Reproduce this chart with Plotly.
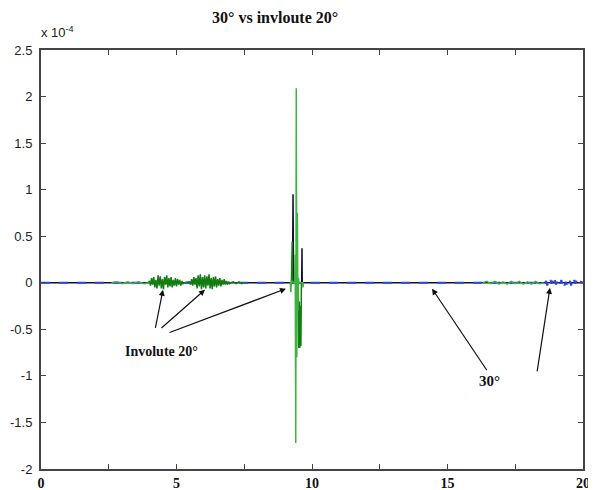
import plotly.graph_objects as go

# values in units of 1e-4
# light green involute response (None breaks the line)
lg_x = [2.6, 2.8, 3.0, 3.2, 3.4, 3.6, 3.8, 4.0, None,
        9.18, 9.20, 9.22, 9.24, 9.36, 9.38, 9.40, 9.42, 9.44, 9.46, 9.48, 9.50, 9.52, 9.66, 9.67, 9.68, None,
        16.3, 16.45, 16.6, 16.75, 16.9, 17.05, 17.2, 17.35, 17.5, 17.65, 17.8, 17.95, 18.1, 18.25, 18.4, 18.55]
lg_y = [0, 0.01, -0.01, 0.01, -0.01, 0.01, -0.01, 0, None,
        0, 0, -0.1, 0.02, 0, 0.3, -1.72, 2.09, -0.8, 0.75, -0.3, 0.05, 0, 0, -0.05, 0, None,
        0, 0.015, -0.01, 0.015, -0.015, 0.01, -0.015, 0.015, -0.01, 0.015, -0.015, 0.01, -0.015, 0.015, -0.01, 0]

# dark green involute response
dg_x = [3.96,
        4.00, 4.04, 4.08, 4.12, 4.16, 4.20, 4.24, 4.28, 4.32, 4.36, 4.40, 4.44, 4.48, 4.52, 4.56, 4.60, 4.64,
        4.68, 4.72, 4.76, 4.80, 4.84, 4.88, 4.92, 4.96, 5.00, 5.04, 5.08, 5.12, 5.16, 5.20, 5.24, 5.28,
        5.48, 5.52, 5.56, 5.60, 5.64, 5.68, 5.72, 5.76, 5.80, 5.84, 5.88, 5.92, 5.96, 6.00,
        6.04, 6.08, 6.12, 6.16, 6.20, 6.24, 6.28, 6.32, 6.36, 6.40, 6.44, 6.48, 6.52, 6.56, 6.60, 6.64,
        6.68, 6.72, 6.76, 6.80, 6.84, 6.88, 6.92, 6.96, 7.00,
        7.1, 7.2, 7.3, 7.4, 7.5, None,
        9.24, 9.25, 9.26, 9.27, 9.28, 9.29, 9.47, 9.49, 9.51, 9.53, 9.55, 9.57, 9.59, 9.61]
dg_y = [0,
        0.02, -0.03, 0.05, -0.02, 0.06, -0.05, 0.03, -0.06, 0.08, -0.03, 0.07, -0.06, 0.04, -0.07, 0.06, -0.02, 0.08,
        -0.05, 0.05, -0.04, 0.06, -0.05, 0.03, -0.03, 0.05, -0.04, 0.04, -0.02, 0.03, -0.03, 0.02, -0.01, 0,
        0.01, -0.02, 0.04, -0.03, 0.06, -0.02, 0.05, -0.06, 0.08, -0.04, 0.09, -0.07, 0.06, -0.05,
        0.08, -0.06, 0.07, -0.03, 0.09, -0.06, 0.05, -0.07, 0.06, -0.04, 0.07, -0.05, 0.04, -0.03, 0.05, -0.04,
        0.03, -0.02, 0.04, -0.02, 0.02, -0.02, 0.01, -0.01, 0,
        0.01, -0.01, 0.01, -0.01, 0, None,
        0, 0.44, 0.05, 0.44, 0.05, 0, 0, -0.2, -0.7, -0.2, -0.7, -0.25, -0.68, 0]

# black involute response
bk_x = [0, 9.28, 9.30, 9.32, 9.62, 9.63, 9.64, 20]
bk_y = [0, 0, 0.95, 0, 0, 0.37, 0, 0]

# blue 30 degree response
bl_x = [0, 18.6, 18.64, 18.68, 18.72, 18.76, 18.8, 18.84, 18.88, 18.92, 18.96, 19.0, 19.04, 19.08, 19.12,
        19.16, 19.2, 19.24, 19.28, 19.32, 19.36, 19.4, 19.44, 19.48, 19.52, 19.56, 19.6, 19.64, 19.68,
        19.72, 19.76, 19.8, 19.84, 19.88, 19.92, 20]
bl_y = [0, 0, 0.02, -0.03, 0.01, -0.02, 0.03, -0.01, 0.02, -0.03, 0.03, -0.02, 0.01, -0.03, 0.02,
        -0.01, 0.03, -0.02, 0.02, -0.03, 0.01, -0.02, 0.03, -0.01, 0.02, -0.03, 0.02, -0.02, 0.03,
        -0.01, 0.02, -0.02, 0.01, -0.01, 0.01, 0]

y_ticks = [-2, -1.5, -1, -0.5, 0, 0.5, 1, 1.5, 2, 2.5]
y_labels = ["-2", "-1.5", "-1", "-0.5", "0", "0.5", "1", "1.5", "2", "2.5"]

fig = go.Figure()
fig.add_trace(go.Scatter(x=bk_x, y=bk_y, mode="lines", line=dict(color="#101030", width=1.5), connectgaps=False))
fig.add_trace(go.Scatter(x=bl_x, y=bl_y, mode="lines", line=dict(color="#2a48e0", width=2, dash="dash")))
fig.add_trace(go.Scatter(x=dg_x, y=dg_y, mode="lines", line=dict(color="#137d13", width=1.5), connectgaps=False))
fig.add_trace(go.Scatter(x=lg_x, y=lg_y, mode="lines", line=dict(color="#3fb23f", width=1.5), connectgaps=False))

ann = []
ann.append(dict(text="<b>30° vs invloute 20°</b>", xref="paper", yref="paper", x=(275 - 41) / 542, y=1,
                yanchor="bottom", xanchor="center", showarrow=False,
                font=dict(family="Liberation Serif", size=16, color="#111"), yshift=22))
ann.append(dict(text="x 10<sup>-4</sup>", xref="paper", yref="paper", x=0, y=1, xanchor="left", yanchor="bottom",
                showarrow=False, font=dict(family="Liberation Sans", size=13, color="#222"), yshift=8, xshift=-2))
ann.append(dict(text="<b>Involute 20°</b>", x=4.45, y=-0.74, showarrow=False,
                font=dict(family="Liberation Serif", size=14, color="#111")))
ann.append(dict(text="<b>30°</b>", x=16.55, y=-1.05, showarrow=False,
                font=dict(family="Liberation Serif", size=15, color="#111")))
arrows = [((4.50, -0.075), (4.21, -0.50)), ((6.05, -0.075), (4.39, -0.50)), ((9.04, -0.064), (4.69, -0.54)),
          ((14.43, -0.064), (16.49, -0.956)), ((18.78, -0.054), (18.30, -0.967))]
for (hx, hy), (tx, ty) in arrows:
    ann.append(dict(text="", x=hx, y=hy, ax=tx, ay=ty, axref="x", ayref="y", showarrow=True,
                    arrowhead=2, arrowsize=1, arrowwidth=1.2, arrowcolor="#111", standoff=0, startstandoff=0))

fig.update_layout(
    width=588, height=482,
    margin=dict(l=33, r=13, t=42, b=21, autoexpand=False),
    paper_bgcolor="white", plot_bgcolor="white",
    showlegend=False,
    annotations=ann,
)
fig.update_xaxes(range=[0, 20], tick0=0, dtick=5, ticks="inside", ticklen=5, automargin=False,
                 minor=dict(dtick=2.5, tick0=0, ticks="inside", ticklen=5, tickcolor="#444"),
                 showline=True, linecolor="#444", linewidth=2, mirror="ticks", showgrid=False, zeroline=False,
                 tickfont=dict(family="Liberation Serif", size=14, color="#111", weight="bold"), tickcolor="#444")
fig.update_yaxes(range=[-2, 2.5], tickvals=y_ticks, ticktext=y_labels, ticks="inside", ticklen=5, automargin=False,
                 showline=True, linecolor="#444", linewidth=2, mirror="ticks", showgrid=False, zeroline=False,
                 ticklabelstandoff=4,
                 tickfont=dict(family="Liberation Sans", size=13, color="#222"), tickcolor="#444")

fig.write_html("out.html")
